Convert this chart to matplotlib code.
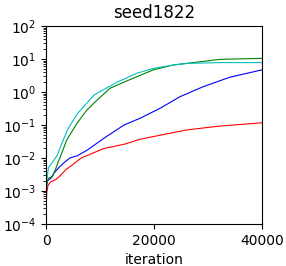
import matplotlib
matplotlib.use('Agg')
import matplotlib.pyplot as plt

# curves (iteration vs value)
red_x = [0, 120, 370, 870, 1800, 2720, 3650, 4870, 6420, 7650, 10740, 14440, 17400, 26050, 32200, 40000]
red_y = [2.5e-4, 8.5e-4, 1.5e-3, 1.9e-3, 2.2e-3, 3.0e-3, 4.4e-3, 6.2e-3, 9.8e-3, 1.2e-2, 1.95e-2, 2.6e-2, 3.7e-2, 7.1e-2, 9.3e-2, 0.117]

blue_x = [0, 120, 370, 870, 1480, 2400, 3330, 4400, 5800, 7650, 10740, 14440, 17400, 21100, 24800, 29100, 34000, 40000]
blue_y = [4e-4, 1.7e-3, 2.1e-3, 2.4e-3, 3.5e-3, 5.2e-3, 7.2e-3, 1.0e-2, 1.17e-2, 1.74e-2, 4.0e-2, 0.10, 0.16, 0.32, 0.72, 1.45, 2.8, 4.7]

green_x = [0, 240, 560, 1170, 1800, 2720, 3830, 5680, 7530, 9300, 11850, 14440, 16800, 19870, 23570, 27300, 32200, 40000]
green_y = [1.0e-3, 2.1e-3, 2.5e-3, 2.7e-3, 4.8e-3, 1.17e-2, 3.5e-2, 0.11, 0.28, 0.54, 1.3, 2.0, 2.9, 4.7, 6.6, 7.8, 9.8, 10.5]

cyan_x = [0, 240, 430, 870, 1480, 2100, 2720, 3950, 5800, 8890, 13200, 16800, 19870, 23570, 26050, 32200, 40000]
cyan_y = [1.5e-3, 2.7e-3, 5.0e-3, 6.3e-3, 8.7e-3, 1.23e-2, 2.3e-2, 7.0e-2, 0.22, 0.81, 2.0, 3.7, 5.2, 6.6, 7.4, 7.8, 7.8]

fig = plt.figure(figsize=(2.86, 2.66), dpi=100)
ax = fig.add_subplot(111)
fig.subplots_adjust(left=0.161, right=0.916, bottom=0.158, top=0.902)

ax.plot(red_x, red_y, color='r', lw=0.8)
ax.plot(blue_x, blue_y, color='b', lw=0.8)
ax.plot(green_x, green_y, color='g', lw=0.8)
ax.plot(cyan_x, cyan_y, color='c', lw=0.8)

ax.set_yscale('log')
ax.set_ylim(1e-4, 1e2)
ax.set_xlim(0, 40000)
ax.set_xticks([0, 20000, 40000])
ax.set_xlabel('iteration')
ax.set_title('seed1822')

fig.savefig('out.png', dpi=100)
